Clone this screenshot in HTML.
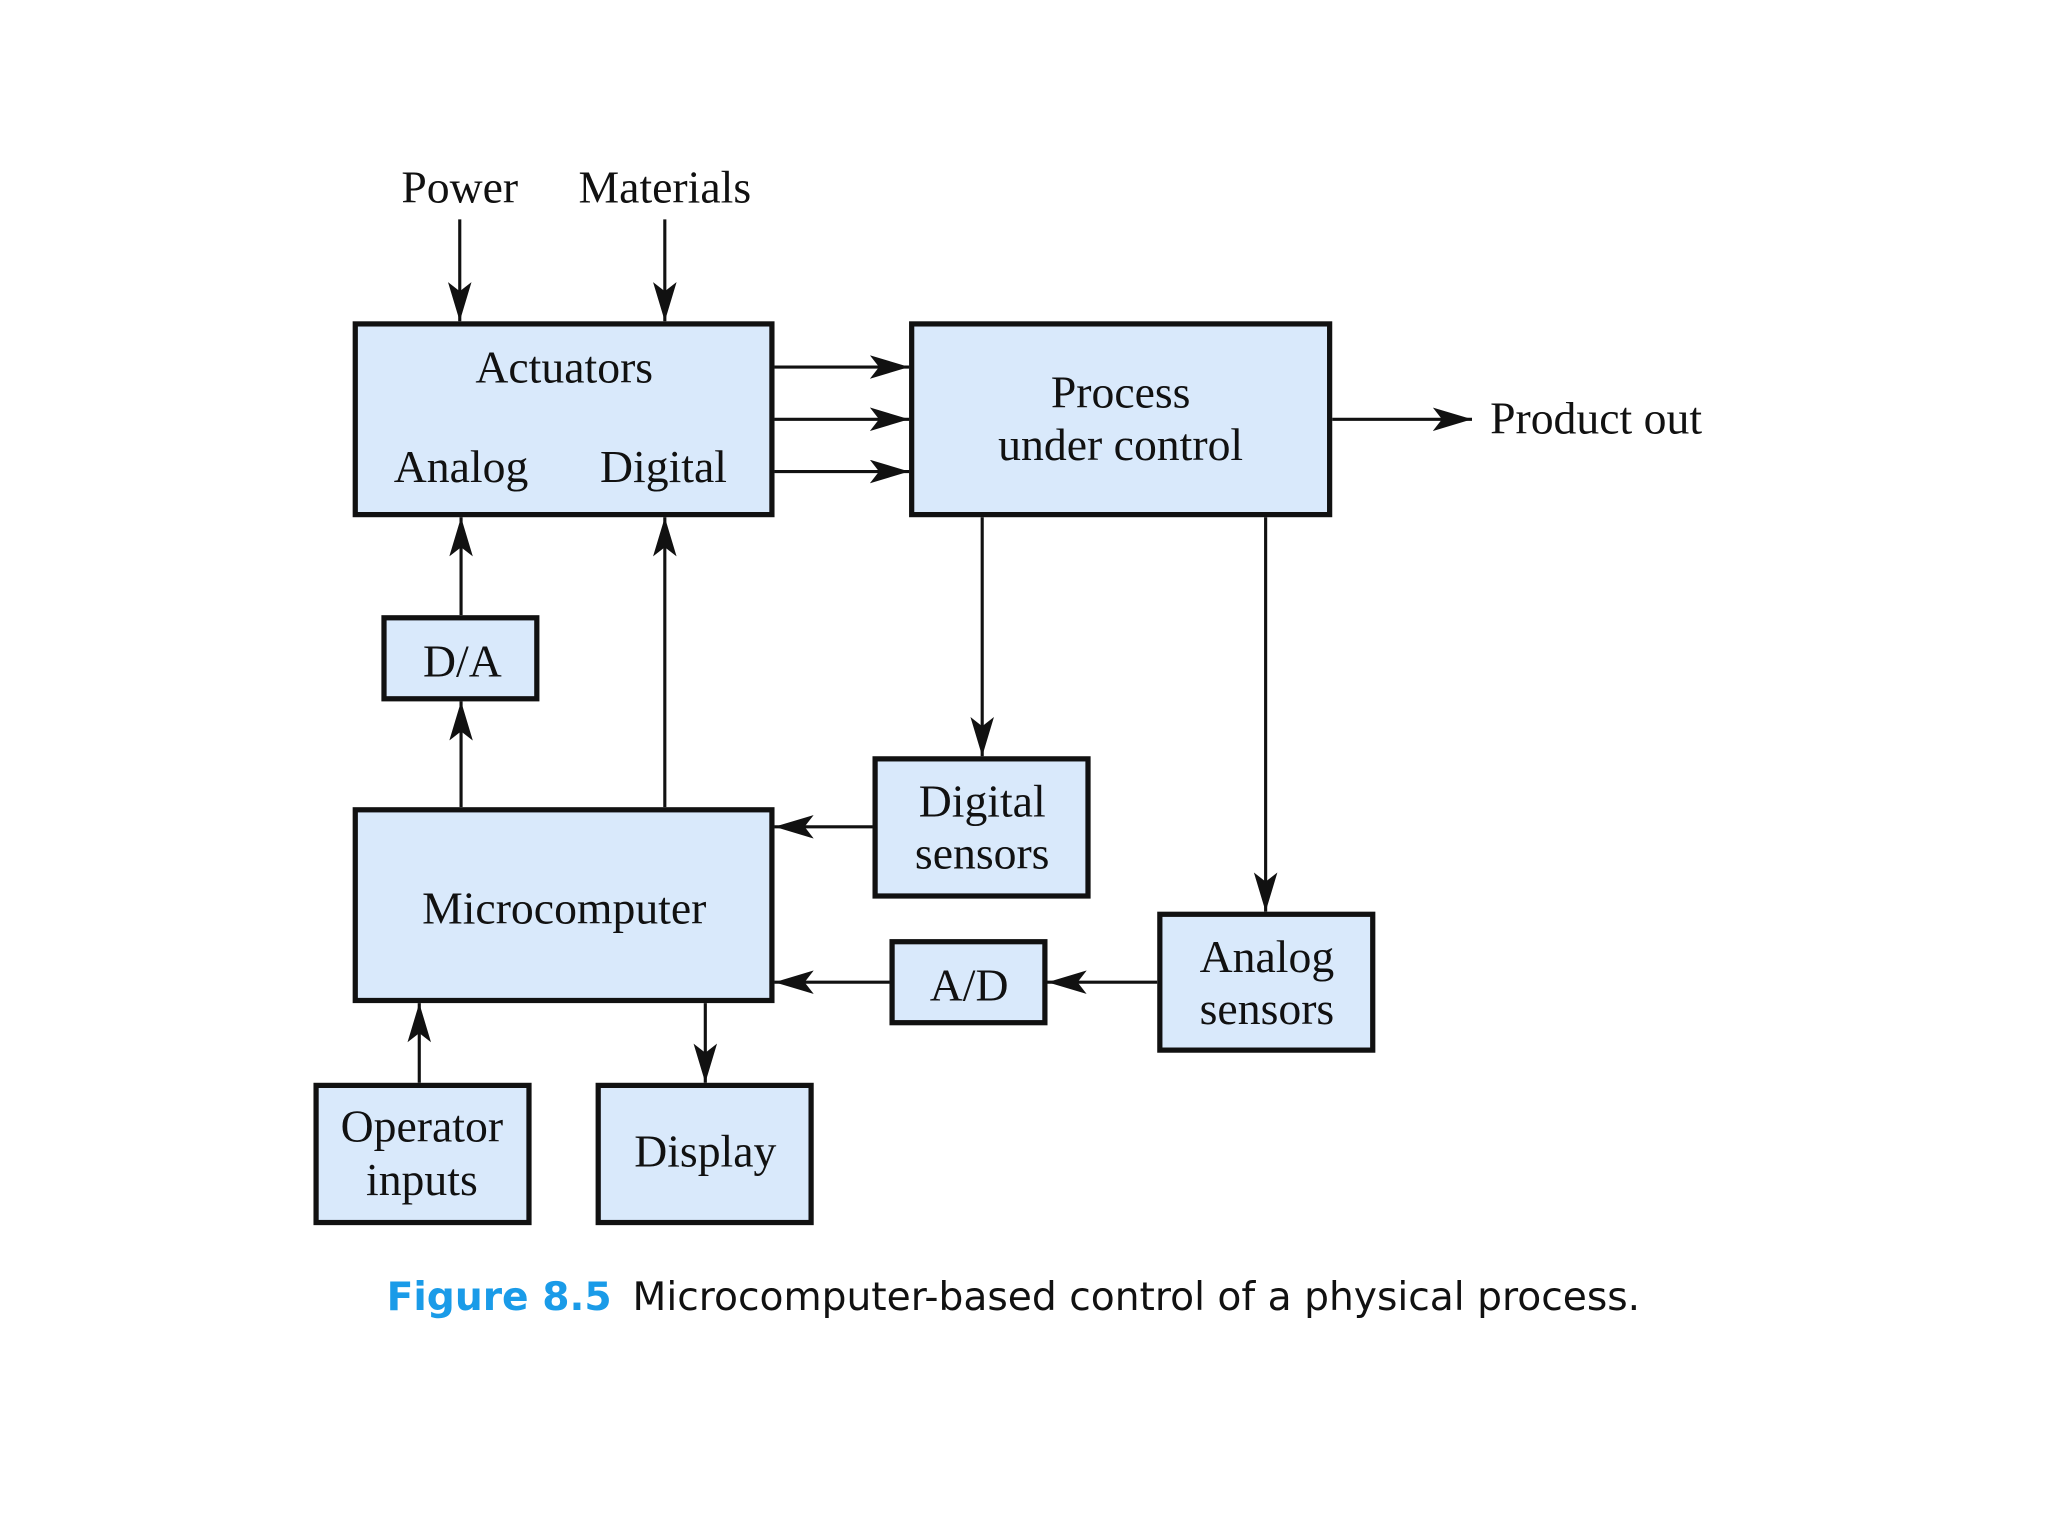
<!DOCTYPE html>
<html><head><meta charset="utf-8"><style>
html,body{margin:0;padding:0;background:#fff;}
svg{display:block;}
.t{font-family:"Liberation Serif",serif;font-size:35px;fill:#111;text-anchor:middle;}
.b{fill:#d9e9fb;stroke:#111;stroke-width:4;}
.l{stroke:#111;stroke-width:2.4;fill:none;}
</style></head><body>
<svg width="2048" height="1536" viewBox="0 0 1568 1176" xmlns="http://www.w3.org/2000/svg">
<defs>
<marker id="a" markerWidth="32" markerHeight="20" refX="30" refY="9" orient="auto" markerUnits="userSpaceOnUse">
<path d="M0,0 L30,9 L0,18 L7,9 Z" fill="#111"/>
</marker>
</defs>
<rect class="b" x="272" y="248" width="319" height="146"/>
<rect class="b" x="698" y="248" width="320" height="146"/>
<rect class="b" x="294" y="473" width="117" height="62"/>
<rect class="b" x="272" y="620" width="319" height="146"/>
<rect class="b" x="670" y="581" width="163" height="105"/>
<rect class="b" x="683" y="721" width="117" height="62"/>
<rect class="b" x="888" y="700" width="163" height="104"/>
<rect class="b" x="242" y="831" width="163" height="105"/>
<rect class="b" x="458" y="831" width="163" height="105"/>

<g class="l">
<line x1="352" y1="168" x2="352" y2="246" marker-end="url(#a)"/>
<line x1="509" y1="168" x2="509" y2="246" marker-end="url(#a)"/>
<line x1="593" y1="281" x2="696" y2="281" marker-end="url(#a)"/>
<line x1="593" y1="321" x2="696" y2="321" marker-end="url(#a)"/>
<line x1="593" y1="361" x2="696" y2="361" marker-end="url(#a)"/>
<line x1="1020" y1="321" x2="1127" y2="321" marker-end="url(#a)"/>
<line x1="752" y1="396" x2="752" y2="579" marker-end="url(#a)"/>
<line x1="969" y1="396" x2="969" y2="698" marker-end="url(#a)"/>
<line x1="668" y1="633" x2="593" y2="633" marker-end="url(#a)"/>
<line x1="681" y1="752" x2="593" y2="752" marker-end="url(#a)"/>
<line x1="886" y1="752" x2="802" y2="752" marker-end="url(#a)"/>
<line x1="353" y1="471" x2="353" y2="396" marker-end="url(#a)"/>
<line x1="353" y1="618" x2="353" y2="537" marker-end="url(#a)"/>
<line x1="509" y1="618" x2="509" y2="396" marker-end="url(#a)"/>
<line x1="321" y1="829" x2="321" y2="768" marker-end="url(#a)"/>
<line x1="540" y1="768" x2="540" y2="829" marker-end="url(#a)"/>
</g>

<text class="t" x="352" y="155">Power</text>
<text class="t" x="509" y="155">Materials</text>
<text class="t" x="432" y="293">Actuators</text>
<text class="t" x="353" y="369">Analog</text>
<text class="t" x="508" y="369">Digital</text>
<text class="t" x="858" y="312">Process</text>
<text class="t" x="858" y="352">under control</text>
<text class="t" x="1222" y="332">Product out</text>
<text class="t" x="354" y="518">D/A</text>
<text class="t" x="432" y="707">Microcomputer</text>
<text class="t" x="752" y="625">Digital</text>
<text class="t" x="752" y="665">sensors</text>
<text class="t" x="742" y="766">A/D</text>
<text class="t" x="970" y="744">Analog</text>
<text class="t" x="970" y="784">sensors</text>
<text class="t" x="323" y="874">Operator</text>
<text class="t" x="323" y="915">inputs</text>
<text class="t" x="540" y="893">Display</text>

<text x="296" y="1003" style="font-family:'DejaVu Sans','Liberation Sans',sans-serif;font-size:30px;"><tspan fill="#1a9be8" font-weight="bold">Figure 8.5</tspan><tspan fill="#111" dx="16">Microcomputer-based control of a physical process.</tspan></text>
</svg>
</body></html>
